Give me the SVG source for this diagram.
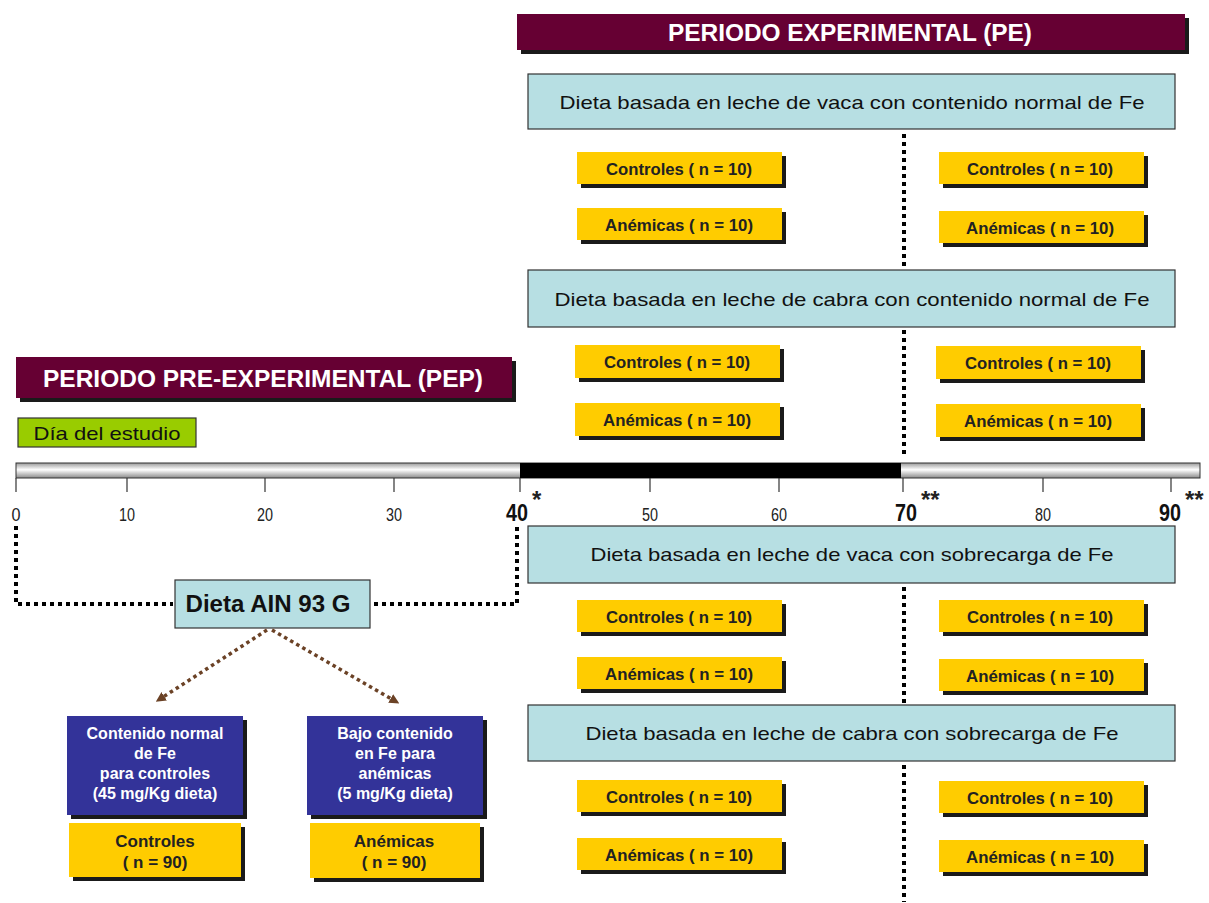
<svg xmlns="http://www.w3.org/2000/svg" width="1209" height="903" viewBox="0 0 1209 903">
<style>
text{font-family:"Liberation Sans",Arial,sans-serif}
.hdr{fill:#660033}
.shd{fill:#1a1a1a}
.hdrt{fill:#fff;font-weight:bold;font-size:23px;text-anchor:middle}
.diet{fill:#b7dfe3;stroke:#333;stroke-width:1.2}
.dietT{fill:#111;font-size:19px;text-anchor:middle}
.yel{fill:#ffcc00}
.yelT{fill:#222;font-weight:bold;font-size:17px;text-anchor:middle}
.navy{fill:#333399}
.navyT{fill:#fff;font-weight:bold;font-size:16px;text-anchor:middle}
.tick{stroke:#333;stroke-width:1.2}
.num{fill:#222;font-size:18px;text-anchor:middle}
.numB{fill:#111;font-size:23px;font-weight:bold;text-anchor:middle}
.star{fill:#222;font-size:24px;font-weight:bold}
.dot{fill:none;stroke:#000;stroke-width:4;stroke-dasharray:4 4}
.bdot{fill:none;stroke:#6b4226;stroke-width:3.5;stroke-dasharray:3.5 3.5}
</style>
<defs>
<linearGradient id="bar" x1="0" y1="0" x2="0" y2="1">
<stop offset="0" stop-color="#9a9a9a"/>
<stop offset="0.45" stop-color="#ffffff"/>
<stop offset="1" stop-color="#8a8a8a"/>
</linearGradient>
<marker id="ah" markerWidth="10" markerHeight="10" refX="5" refY="5" orient="auto" markerUnits="userSpaceOnUse">
<path d="M0,0 L10,5 L0,10 Z" fill="#6b4226"/>
</marker>
</defs>

<g id="pe-header">
<rect class="shd" x="521" y="18" width="668" height="36"/>
<rect class="hdr" x="517" y="14" width="668" height="36"/>
<text class="hdrt" x="850" y="41" textLength="364" lengthAdjust="spacingAndGlyphs">PERIODO EXPERIMENTAL (PE)</text>
</g>

<g id="pep-header">
<rect class="shd" x="20" y="361" width="496" height="41"/>
<rect class="hdr" x="16" y="357" width="496" height="41"/>
<text class="hdrt" x="263" y="387" textLength="440" lengthAdjust="spacingAndGlyphs">PERIODO PRE-EXPERIMENTAL (PEP)</text>
</g>

<g id="dia-estudio">
<rect x="18" y="418" width="178" height="29" fill="#99cc00" stroke="#333" stroke-width="1.2"/>
<text x="107" y="440" fill="#111" font-size="19" text-anchor="middle" textLength="147" lengthAdjust="spacingAndGlyphs">Día del estudio</text>
</g>

<g id="diet-vaca-normal">
<rect class="diet" x="528" y="74" width="647" height="55"/>
<text class="dietT" x="852" y="109" textLength="585" lengthAdjust="spacingAndGlyphs">Dieta basada en leche de vaca con contenido normal de Fe</text>
</g>
<g id="diet-cabra-normal">
<rect class="diet" x="528" y="270" width="647" height="57"/>
<text class="dietT" x="852" y="306" textLength="595" lengthAdjust="spacingAndGlyphs">Dieta basada en leche de cabra con contenido normal de Fe</text>
</g>
<g id="diet-vaca-sobre">
<rect class="diet" x="528" y="526" width="647" height="57"/>
<text class="dietT" x="852" y="561" textLength="523" lengthAdjust="spacingAndGlyphs">Dieta basada en leche de vaca con sobrecarga de Fe</text>
</g>
<g id="diet-cabra-sobre">
<rect class="diet" x="528" y="705" width="647" height="56"/>
<text class="dietT" x="852" y="740" textLength="533" lengthAdjust="spacingAndGlyphs">Dieta basada en leche de cabra con sobrecarga de Fe</text>
</g>

<g id="g1-left-controles"><rect class="shd" x="581" y="156" width="205" height="32"/><rect class="yel" x="577" y="152" width="205" height="32"/><text class="yelT" x="679" y="175" textLength="146" lengthAdjust="spacingAndGlyphs">Controles ( n = 10)</text></g>
<g id="g1-left-anemicas"><rect class="shd" x="581" y="212" width="205" height="32"/><rect class="yel" x="577" y="208" width="205" height="32"/><text class="yelT" x="679" y="231" textLength="148" lengthAdjust="spacingAndGlyphs">Anémicas ( n = 10)</text></g>
<g id="g1-right-controles"><rect class="shd" x="943" y="156" width="205" height="32"/><rect class="yel" x="939" y="152" width="205" height="32"/><text class="yelT" x="1040" y="175" textLength="146" lengthAdjust="spacingAndGlyphs">Controles ( n = 10)</text></g>
<g id="g1-right-anemicas"><rect class="shd" x="943" y="215" width="205" height="32"/><rect class="yel" x="939" y="211" width="205" height="32"/><text class="yelT" x="1040" y="234" textLength="148" lengthAdjust="spacingAndGlyphs">Anémicas ( n = 10)</text></g>

<g id="g2-left-controles"><rect class="shd" x="579" y="349" width="205" height="33"/><rect class="yel" x="575" y="345" width="205" height="33"/><text class="yelT" x="677" y="368" textLength="146" lengthAdjust="spacingAndGlyphs">Controles ( n = 10)</text></g>
<g id="g2-left-anemicas"><rect class="shd" x="579" y="407" width="205" height="33"/><rect class="yel" x="575" y="403" width="205" height="33"/><text class="yelT" x="677" y="426" textLength="148" lengthAdjust="spacingAndGlyphs">Anémicas ( n = 10)</text></g>
<g id="g2-right-controles"><rect class="shd" x="940" y="350" width="205" height="33"/><rect class="yel" x="936" y="346" width="205" height="33"/><text class="yelT" x="1038" y="369" textLength="146" lengthAdjust="spacingAndGlyphs">Controles ( n = 10)</text></g>
<g id="g2-right-anemicas"><rect class="shd" x="940" y="408" width="205" height="33"/><rect class="yel" x="936" y="404" width="205" height="33"/><text class="yelT" x="1038" y="427" textLength="148" lengthAdjust="spacingAndGlyphs">Anémicas ( n = 10)</text></g>

<g id="g3-left-controles"><rect class="shd" x="581" y="604" width="205" height="32"/><rect class="yel" x="577" y="600" width="205" height="32"/><text class="yelT" x="679" y="623" textLength="146" lengthAdjust="spacingAndGlyphs">Controles ( n = 10)</text></g>
<g id="g3-left-anemicas"><rect class="shd" x="581" y="661" width="205" height="32"/><rect class="yel" x="577" y="657" width="205" height="32"/><text class="yelT" x="679" y="680" textLength="148" lengthAdjust="spacingAndGlyphs">Anémicas ( n = 10)</text></g>
<g id="g3-right-controles"><rect class="shd" x="943" y="604" width="205" height="32"/><rect class="yel" x="939" y="600" width="205" height="32"/><text class="yelT" x="1040" y="623" textLength="146" lengthAdjust="spacingAndGlyphs">Controles ( n = 10)</text></g>
<g id="g3-right-anemicas"><rect class="shd" x="943" y="663" width="205" height="32"/><rect class="yel" x="939" y="659" width="205" height="32"/><text class="yelT" x="1040" y="682" textLength="148" lengthAdjust="spacingAndGlyphs">Anémicas ( n = 10)</text></g>

<g id="g4-left-controles"><rect class="shd" x="581" y="784" width="205" height="32"/><rect class="yel" x="577" y="780" width="205" height="32"/><text class="yelT" x="679" y="803" textLength="146" lengthAdjust="spacingAndGlyphs">Controles ( n = 10)</text></g>
<g id="g4-left-anemicas"><rect class="shd" x="581" y="842" width="205" height="32"/><rect class="yel" x="577" y="838" width="205" height="32"/><text class="yelT" x="679" y="861" textLength="148" lengthAdjust="spacingAndGlyphs">Anémicas ( n = 10)</text></g>
<g id="g4-right-controles"><rect class="shd" x="943" y="785" width="205" height="32"/><rect class="yel" x="939" y="781" width="205" height="32"/><text class="yelT" x="1040" y="804" textLength="146" lengthAdjust="spacingAndGlyphs">Controles ( n = 10)</text></g>
<g id="g4-right-anemicas"><rect class="shd" x="943" y="844" width="205" height="32"/><rect class="yel" x="939" y="840" width="205" height="32"/><text class="yelT" x="1040" y="863" textLength="148" lengthAdjust="spacingAndGlyphs">Anémicas ( n = 10)</text></g>

<g id="timeline">
<rect x="16" y="463" width="1184" height="15" fill="url(#bar)" stroke="#333" stroke-width="1"/>
<rect x="520" y="463" width="381" height="15" fill="#000"/>
<g class="tick">
<line x1="16" y1="478" x2="16" y2="492"/>
<line x1="127" y1="478" x2="127" y2="492"/>
<line x1="265" y1="478" x2="265" y2="492"/>
<line x1="394" y1="478" x2="394" y2="492"/>
<line x1="520" y1="478" x2="520" y2="492"/>
<line x1="650" y1="478" x2="650" y2="492"/>
<line x1="779" y1="478" x2="779" y2="492"/>
<line x1="903" y1="478" x2="903" y2="492"/>
<line x1="1043" y1="478" x2="1043" y2="492"/>
<line x1="1171" y1="478" x2="1171" y2="492"/>
</g>
<text class="num" x="16" y="521" textLength="9" lengthAdjust="spacingAndGlyphs">0</text>
<text class="num" x="127" y="521" textLength="16" lengthAdjust="spacingAndGlyphs">10</text>
<text class="num" x="265" y="521" textLength="16" lengthAdjust="spacingAndGlyphs">20</text>
<text class="num" x="394" y="521" textLength="16" lengthAdjust="spacingAndGlyphs">30</text>
<text class="numB" x="517" y="521" textLength="22" lengthAdjust="spacingAndGlyphs">40</text>
<text class="star" x="532" y="508">*</text>
<text class="num" x="650" y="521" textLength="16" lengthAdjust="spacingAndGlyphs">50</text>
<text class="num" x="779" y="521" textLength="16" lengthAdjust="spacingAndGlyphs">60</text>
<text class="numB" x="906" y="521" textLength="22" lengthAdjust="spacingAndGlyphs">70</text>
<text class="star" x="921" y="508">**</text>
<text class="num" x="1043" y="521" textLength="16" lengthAdjust="spacingAndGlyphs">80</text>
<text class="numB" x="1170" y="521" textLength="22" lengthAdjust="spacingAndGlyphs">90</text>
<text class="star" x="1185" y="508">**</text>
</g>

<g id="dieta-ain">
<rect class="diet" x="175" y="580" width="195" height="48"/>
<text x="268" y="612" fill="#111" font-size="23" font-weight="bold" text-anchor="middle" textLength="165" lengthAdjust="spacingAndGlyphs">Dieta AIN 93 G</text>
</g>

<g id="blue-normal">
<rect class="shd" x="71" y="720" width="176" height="99"/>
<rect class="navy" x="67" y="716" width="176" height="99"/>
<text class="navyT" x="155" y="739">Contenido normal</text>
<text class="navyT" x="155" y="759">de Fe</text>
<text class="navyT" x="155" y="779">para controles</text>
<text class="navyT" x="155" y="799">(45 mg/Kg dieta)</text>
</g>
<g id="blue-bajo">
<rect class="shd" x="311" y="720" width="176" height="99"/>
<rect class="navy" x="307" y="716" width="176" height="99"/>
<text class="navyT" x="395" y="739">Bajo contenido</text>
<text class="navyT" x="395" y="759">en Fe para</text>
<text class="navyT" x="395" y="779">anémicas</text>
<text class="navyT" x="395" y="799">(5 mg/Kg dieta)</text>
</g>
<g id="pep-controles">
<rect class="shd" x="73" y="827" width="172" height="54"/>
<rect class="yel" x="69" y="823" width="172" height="54"/>
<text class="yelT" x="155" y="847">Controles</text>
<text class="yelT" x="155" y="868">( n = 90)</text>
</g>
<g id="pep-anemicas">
<rect class="shd" x="314" y="827" width="170" height="55"/>
<rect class="yel" x="310" y="823" width="170" height="55"/>
<text class="yelT" x="394" y="847">Anémicas</text>
<text class="yelT" x="394" y="868">( n = 90)</text>
</g>

<g id="connectors">
<line class="dot" x1="904" y1="134" x2="904" y2="268"/>
<line class="dot" x1="904" y1="330" x2="904" y2="456"/>
<line class="dot" x1="904" y1="587" x2="904" y2="703"/>
<line class="dot" x1="904" y1="765" x2="904" y2="902"/>
<polyline class="dot" points="16,526 16,604 173,604"/>
<polyline class="dot" points="374,604 517,604 517,526"/>
<line class="bdot" x1="267" y1="630" x2="160" y2="699" marker-end="url(#ah)"/>
<line class="bdot" x1="272" y1="630" x2="395" y2="701" marker-end="url(#ah)"/>
</g>
</svg>
